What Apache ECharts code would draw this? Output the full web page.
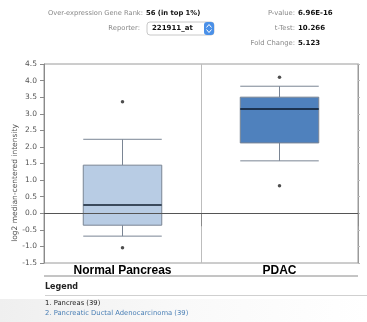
<!DOCTYPE html>
<html><head><meta charset="utf-8">
<script src="https://cdn.jsdelivr.net/npm/echarts@6/dist/echarts.min.js"></script>
<style>html,body{margin:0;padding:0;background:#fff;}#c{width:367px;height:322px;}</style>
</head><body><div id="c"></div>
<script>
// ---- data ----
const categories = ['Normal Pancreas', 'PDAC'];
// [min whisker, Q1, median, Q3, max whisker]
const normalBox = [-0.69, -0.36, 0.25, 1.45, 2.23];
const pdacBox = [1.58, 2.12, 3.14, 3.50, 3.83];
const normalOutliers = [3.36, -1.04];
const pdacOutliers = [4.10, 0.83];
const yTicks = { min: -1.5, max: 4.5, interval: 0.5 };
const boxFills = ['#b8cce4', '#4f81bd'];
const medianColors = ['#3b4a5c', '#1c3350'];

const boxes = [normalBox, pdacBox];
const boxData = boxes.map((b, i) => [i].concat(b));
const outlierData = [];
normalOutliers.forEach(v => outlierData.push([0, v]));
pdacOutliers.forEach(v => outlierData.push([1, v]));

const chart = echarts.init(document.getElementById('c'), null, {renderer: 'canvas'});
const FONT = 'Liberation Sans';
const hdr = 'DejaVu Sans';

function renderBox(params, api) {
  const idx = api.value(0);
  const lo = api.value(1), q1 = api.value(2), med = api.value(3), q3 = api.value(4), hi = api.value(5);
  const band = api.size([1, 0])[0];
  const hw = band * 0.25;
  const cLo = api.coord([idx, lo]), cQ1 = api.coord([idx, q1]), cMed = api.coord([idx, med]);
  const cQ3 = api.coord([idx, q3]), cHi = api.coord([idx, hi]);
  const x = cMed[0];
  const lineStyle = {stroke: '#7a8594', lineWidth: 1};
  return {
    type: 'group',
    children: [
      {type: 'line', shape: {x1: x, y1: cHi[1], x2: x, y2: cQ3[1]}, style: lineStyle},
      {type: 'line', shape: {x1: x, y1: cQ1[1], x2: x, y2: cLo[1]}, style: lineStyle},
      {type: 'line', shape: {x1: x - hw, y1: cHi[1], x2: x + hw, y2: cHi[1]}, style: lineStyle},
      {type: 'line', shape: {x1: x - hw, y1: cLo[1], x2: x + hw, y2: cLo[1]}, style: lineStyle},
      {type: 'rect', shape: {x: x - hw, y: cQ3[1], width: hw * 2, height: cQ1[1] - cQ3[1]},
        style: {fill: boxFills[idx], stroke: '#7a8594', lineWidth: 1}},
      {type: 'line', shape: {x1: x - hw, y1: cMed[1], x2: x + hw, y2: cMed[1]},
        style: {stroke: medianColors[idx], lineWidth: 2}}
    ]
  };
}

const option = {
  animation: false,
  backgroundColor: '#fff',
  grid: {left: 44, right: 9, top: 64, bottom: 59, show: true, borderColor: '#9a9a9a', borderWidth: 1},
  xAxis: {
    type: 'category', data: categories, boundaryGap: true,
    axisLine: {show: true, lineStyle: {color: '#8a8a8a'}},
    axisTick: {show: true, length: 13, lineStyle: {color: '#8a8a8a'}},
    splitLine: {show: true, lineStyle: {color: '#bdbdbd'}},
    axisLabel: {color: '#000', fontFamily: FONT, fontWeight: 'bold', fontSize: 12, margin: 2}
  },
  yAxis: [{
    type: 'value', min: yTicks.min, max: yTicks.max, interval: yTicks.interval,
    axisLine: {show: true, lineStyle: {color: '#8a8a8a'}},
    axisTick: {show: true, length: 4, lineStyle: {color: '#8a8a8a'}},
    splitLine: {show: false},
    axisLabel: {color: '#555', fontFamily: hdr, fontSize: 7.5, margin: 7,
      formatter: v => v.toFixed(1)}
  }, {
    type: 'value', position: 'right', min: yTicks.min, max: yTicks.max, interval: yTicks.interval,
    axisLine: {show: true, lineStyle: {color: '#9a9a9a'}},
    axisTick: {show: true, length: 2, lineStyle: {color: '#bbb'}},
    axisLabel: {show: false}, splitLine: {show: false}
  }],
  series: [{
    type: 'custom', renderItem: renderBox, data: boxData,
    encode: {x: 0, y: [1, 2, 3, 4, 5]}, z: 3,
    markLine: {
      silent: true, symbol: ['none', 'none'], label: {show: false},
      lineStyle: {color: '#555', width: 1, type: 'solid'},
      data: [{yAxis: 0}]
    }
  }, {
    type: 'scatter', data: outlierData, symbol: 'circle', symbolSize: 3.5,
    itemStyle: {color: '#222'}, z: 4
  }],
  graphic: [
    // category strip bottom border
    {type: 'line', shape: {x1: 44, y1: 276, x2: 358, y2: 276}, style: {stroke: '#8a8a8a', lineWidth: 1}},
    // y axis title
    {type: 'text', x: 15, y: 183, rotation: Math.PI / 2,
      style: {text: 'log2 median-centered intensity', fill: '#555', font: '7.5px "DejaVu Sans"',
        textAlign: 'center', textVerticalAlign: 'middle'}},
    // header
    {type: 'text', x: 143, y: 13, style: {text: 'Over-expression Gene Rank:', fill: '#888', font: '6.7px "DejaVu Sans"', textAlign: 'right', textVerticalAlign: 'middle'}},
    {type: 'text', x: 146, y: 13, style: {text: '56 (in top 1%)', fill: '#111', font: 'bold 6.8px "DejaVu Sans"', textAlign: 'left', textVerticalAlign: 'middle'}},
    {type: 'text', x: 140, y: 28, style: {text: 'Reporter:', fill: '#888', font: '6.8px "DejaVu Sans"', textAlign: 'right', textVerticalAlign: 'middle'}},
    {type: 'rect', shape: {x: 147, y: 22, width: 67, height: 13, r: 3}, style: {fill: '#fff', stroke: '#c8c8c8', lineWidth: 1}},
    {type: 'text', x: 152, y: 28.5, style: {text: '221911_at', fill: '#111', font: 'bold 7px "DejaVu Sans"', textAlign: 'left', textVerticalAlign: 'middle'}},
    {type: 'rect', shape: {x: 204, y: 22, width: 10, height: 13, r: 3}, style: {fill: '#4a90e8'}},
    {type: 'polyline', shape: {points: [[206.5, 27.5], [209, 24.5], [211.5, 27.5]]}, style: {fill: 'none', stroke: '#fff', lineWidth: 1}},
    {type: 'polyline', shape: {points: [[206.5, 29.5], [209, 32.5], [211.5, 29.5]]}, style: {fill: 'none', stroke: '#fff', lineWidth: 1}},
    {type: 'text', x: 295, y: 13, style: {text: 'P-value:', fill: '#888', font: '6.8px "DejaVu Sans"', textAlign: 'right', textVerticalAlign: 'middle'}},
    {type: 'text', x: 298, y: 13, style: {text: '6.96E-16', fill: '#111', font: 'bold 7px "DejaVu Sans"', textAlign: 'left', textVerticalAlign: 'middle'}},
    {type: 'text', x: 295, y: 28, style: {text: 't-Test:', fill: '#888', font: '6.8px "DejaVu Sans"', textAlign: 'right', textVerticalAlign: 'middle'}},
    {type: 'text', x: 298, y: 28, style: {text: '10.266', fill: '#111', font: 'bold 7px "DejaVu Sans"', textAlign: 'left', textVerticalAlign: 'middle'}},
    {type: 'text', x: 295, y: 43, style: {text: 'Fold Change:', fill: '#888', font: '6.8px "DejaVu Sans"', textAlign: 'right', textVerticalAlign: 'middle'}},
    {type: 'text', x: 298, y: 43, style: {text: '5.123', fill: '#111', font: 'bold 7px "DejaVu Sans"', textAlign: 'left', textVerticalAlign: 'middle'}},
    // legend area
    {type: 'rect', shape: {x: 0, y: 299, width: 367, height: 23}, z: -10,
      style: {fill: new echarts.graphic.LinearGradient(0, 0, 1, 0.4, [
        {offset: 0, color: '#efefef'}, {offset: 0.5, color: '#f9f9f9'}, {offset: 1, color: '#ffffff'}])}},
    {type: 'text', x: 45, y: 287, style: {text: 'Legend', fill: '#222', font: 'bold 8px "DejaVu Sans"', textAlign: 'left', textVerticalAlign: 'middle'}},
    {type: 'line', shape: {x1: 45, y1: 295.5, x2: 367, y2: 295.5}, style: {stroke: '#d0d0d0', lineWidth: 1}},
    {type: 'text', x: 45, y: 303, style: {text: '1. Pancreas (39)', fill: '#222', font: '6.8px "DejaVu Sans"', textAlign: 'left', textVerticalAlign: 'middle'}},
    {type: 'text', x: 45, y: 313, style: {text: '2. Pancreatic Ductal Adenocarcinoma (39)', fill: '#4a7fb5', font: '6.8px "DejaVu Sans"', textAlign: 'left', textVerticalAlign: 'middle'}}
  ]
};
chart.setOption(option);
</script>
</body></html>
